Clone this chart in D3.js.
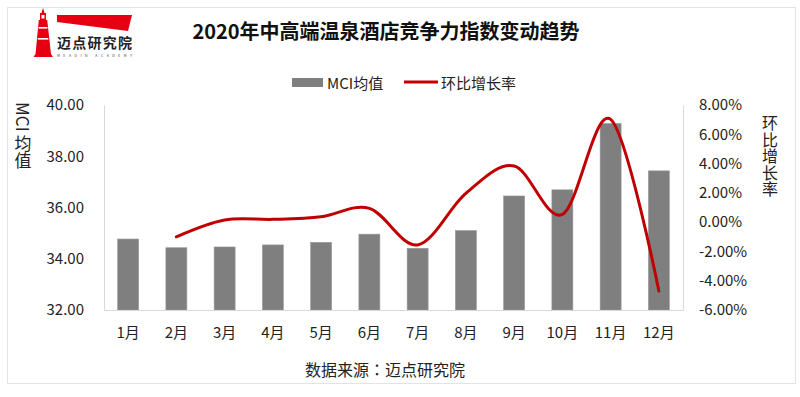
<!DOCTYPE html>
<html>
<head>
<meta charset="utf-8" />
<title>2020年中高端温泉酒店竞争力指数变动趋势</title>
<script src="https://cdn.jsdelivr.net/npm/d3@7"></script>
<style>
  html, body { margin: 0; padding: 0; background: #fff; }
  svg { display: block; font-family: "Noto Sans CJK SC", "Noto Sans", sans-serif; }
  .tick text { fill: #222; font-size: 15px; }
  .vtitle { writing-mode: vertical-rl; text-orientation: mixed; }
</style>
</head>
<body>
<svg id="chart" width="800" height="397"></svg>
<script>
// data
var months = ["1月", "2月", "3月", "4月", "5月", "6月", "7月", "8月", "9月", "10月", "11月", "12月"];
var mciValues = [34.77, 34.43, 34.46, 34.54, 34.64, 34.96, 34.41, 35.10, 36.45, 36.69, 39.28, 37.43];
var growthRates = [null, -1.00, 0.15, 0.19, 0.37, 0.94, -1.56, 1.97, 3.83, 0.53, 7.02, -4.70];
var leftTicks = [32, 34, 36, 38, 40];
var rightTicks = [-6, -4, -2, 0, 2, 4, 6, 8];

var svg = d3.select("#chart");

var plot = {left: 104, right: 683, top: 105, bottom: 310};

// frame
svg.append("rect")
  .attr("x", 7.5).attr("y", 7.5)
  .attr("width", 788).attr("height", 376)
  .attr("fill", "#fff")
  .attr("stroke", "#e3e3e3");

// logo
var logo = svg.append("g").attr("fill", "#e60012");
logo.append("path")
  .attr("d", "M43,8 L44.6,13 L46,13 L46,20 L47.2,20 L51,54 L53,57 L33.5,57 L35.5,54 L38.8,20 L40,20 L40,13 L41.4,13 Z");
logo.append("rect").attr("x", 41.5).attr("y", 15).attr("width", 3).attr("height", 3.5).attr("fill", "#fff");
logo.append("rect").attr("x", 38.5).attr("y", 27).attr("width", 9).attr("height", 1.6).attr("fill", "#fff");
logo.append("rect").attr("x", 37.8).attr("y", 38).attr("width", 10.5).attr("height", 1.6).attr("fill", "#fff");
logo.append("path").attr("d", "M57,15 L132,15 L128,31 L57,22 Z");
svg.append("text")
  .attr("x", 57).attr("y", 42)
  .attr("dominant-baseline", "central")
  .attr("font-size", 14).attr("font-weight", "bold")
  .attr("textLength", 75)
  .attr("fill", "#222")
  .text("迈点研究院");
svg.append("text")
  .attr("x", 57).attr("y", 55)
  .attr("dominant-baseline", "central")
  .attr("font-size", 3.5)
  .attr("textLength", 75)
  .attr("fill", "#444")
  .text("MEADIN ACADEMY");

// title
svg.append("text")
  .attr("x", 386).attr("y", 30)
  .attr("text-anchor", "middle")
  .attr("dominant-baseline", "central")
  .attr("font-size", 20).attr("font-weight", "bold")
  .attr("fill", "#111")
  .text("2020年中高端温泉酒店竞争力指数变动趋势");

// scales
var x = d3.scaleBand()
  .domain(months)
  .range([plot.left, plot.right])
  .paddingInner(0.565)
  .paddingOuter(0.2825);

var yLeft = d3.scaleLinear().domain([32, 40]).range([plot.bottom, plot.top]);
var yRight = d3.scaleLinear().domain([-6, 8]).range([plot.bottom, plot.top]);

// bars
svg.append("g").selectAll("rect")
  .data(mciValues)
  .join("rect")
  .attr("x", function(d, i) { return x(months[i]); })
  .attr("y", function(d) { return yLeft(d); })
  .attr("width", x.bandwidth())
  .attr("height", function(d) { return yLeft(32) - yLeft(d); })
  .attr("fill", "#7f7f7f")
  .attr("stroke", "#9a9a9a")
  .attr("stroke-width", 0.6);

// axes
var axisLeft = d3.axisLeft(yLeft).tickValues(leftTicks).tickSize(0).tickPadding(20)
  .tickFormat(function(d) { return d.toFixed(2); });
var gl = svg.append("g").attr("transform", "translate(" + plot.left + ",0)").call(axisLeft);
gl.select(".domain").attr("stroke", "#d9d9d9");

var axisRight = d3.axisRight(yRight).tickValues(rightTicks).tickSize(0).tickPadding(16)
  .tickFormat(function(d) { return d.toFixed(2) + "%"; });
var gr = svg.append("g").attr("transform", "translate(" + plot.right + ",0)").call(axisRight);
gr.select(".domain").attr("stroke", "#d9d9d9");

var axisBottom = d3.axisBottom(x).tickSize(0).tickPadding(17);
var gb = svg.append("g").attr("transform", "translate(0," + plot.bottom + ")").call(axisBottom);
gb.select(".domain").attr("stroke", "#d9d9d9");

svg.selectAll(".tick text").attr("font-family", "\"Noto Sans CJK SC\", \"Noto Sans\", sans-serif");

// growth line
var line = d3.line()
  .defined(function(d) { return d != null; })
  .x(function(d, i) { return x(months[i]) + x.bandwidth() / 2; })
  .y(function(d) { return yRight(d); })
  .curve(d3.curveCatmullRom.alpha(0));

svg.append("path")
  .datum(growthRates)
  .attr("d", line)
  .attr("fill", "none")
  .attr("stroke", "#c00000")
  .attr("stroke-width", 3)
  .attr("stroke-linecap", "round");

// legend
svg.append("rect").attr("x", 292).attr("y", 78).attr("width", 31).attr("height", 9).attr("fill", "#7f7f7f");
svg.append("text").attr("x", 327).attr("y", 82).attr("dominant-baseline", "central")
  .attr("font-size", 15).attr("fill", "#222").text("MCI均值");
svg.append("line").attr("x1", 404).attr("x2", 438).attr("y1", 82).attr("y2", 82)
  .attr("stroke", "#c00000").attr("stroke-width", 3);
svg.append("text").attr("x", 441).attr("y", 82).attr("dominant-baseline", "central")
  .attr("font-size", 15).attr("fill", "#222").text("环比增长率");

// axis titles, vertical writing
svg.append("text")
  .attr("class", "vtitle")
  .attr("x", 23).attr("y", 102)
  .attr("font-size", 17).attr("fill", "#222")
  .text("MCI 均值");

svg.append("text")
  .attr("class", "vtitle")
  .attr("x", 770).attr("y", 115)
  .attr("font-size", 16).attr("letter-spacing", 0.5).attr("fill", "#222")
  .text("环比增长率");

// source
svg.append("text")
  .attr("x", 385).attr("y", 369)
  .attr("text-anchor", "middle").attr("dominant-baseline", "central")
  .attr("font-size", 16).attr("fill", "#222")
  .attr("font-family", "\"Noto Sans CJK TC\", \"Noto Sans CJK SC\", sans-serif")
  .text("数据来源：迈点研究院");
</script>
</body>
</html>
